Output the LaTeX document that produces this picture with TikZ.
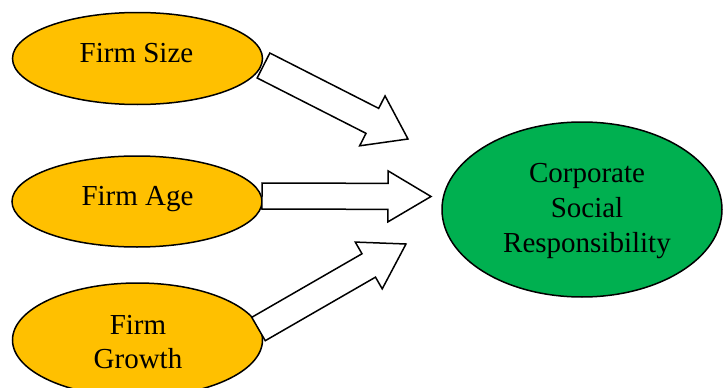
\documentclass[tikz,border=0pt]{standalone}
\usepackage{fontspec}
\setmainfont{Liberation Serif}
\usetikzlibrary{shapes.geometric,calc}
\definecolor{gold}{HTML}{FFC000}
\definecolor{csrgreen}{HTML}{00B050}
\tikzset{
  oval/.style={ellipse, draw=black, line width=1.5pt, inner sep=0pt},
  factor/.style={oval, fill=gold, minimum width=250pt, minimum height=92pt},
  outcome/.style={oval, fill=csrgreen, minimum width=280pt, minimum height=175pt},
  lbl/.style={font=\fontsize{29}{35}\selectfont, inner sep=0pt, align=center, anchor=base},
  arrowbox/.style={draw=black, fill=white, line width=1.5pt, line join=miter}
}
% #1 base, #2 tip, #3 half shaft width, #4 half head width, #5 head length
\newcommand\blockarr[5]{%
  \coordinate (hb) at ($(#2)!#5!(#1)$);
  \draw[arrowbox] ($(#1)!#3!90:(#2)$) -- ($(hb)!#3!90:(#2)$) -- ($(hb)!#4!90:(#2)$)
     -- (#2) -- ($(hb)!#4!-90:(#2)$) -- ($(hb)!#3!-90:(#2)$) -- ($(#1)!#3!-90:(#2)$) -- cycle;
}
\begin{document}
\begin{tikzpicture}[x=1pt,y=-1pt]
\useasboundingbox (0,0) rectangle (724,388);
\clip (0,0) rectangle (724,388);
\node[factor] (size) at (137.5,58.5) {};
\node[factor, minimum height=91pt] (age) at (137,201.5) {};
\node[factor, minimum height=114pt] (growth) at (137.5,340) {};
\node[outcome] (csr) at (582,209.5) {};
\node[lbl] (tsize) at (136.5,63) {Firm Size};
\node[lbl] (tage) at (137.5,205) {Firm Age};
\node[lbl, font=\fontsize{29}{34}\selectfont] (tgrowth) at (138,368) {Firm\\Growth};
\node[lbl] (tcsr) at (587,252) {Corporate\\Social\\Responsibility};
\coordinate (a1s) at (263.5,65.5);
\coordinate (a1t) at (408,139);
\coordinate (a2s) at (262,196);
\coordinate (a2t) at (431,196.5);
\coordinate (a3s) at (258.5,329);
\coordinate (a3t) at (406,244);
\blockarr{a1s}{a1t}{14pt}{28pt}{40pt}
\blockarr{a2s}{a2t}{13pt}{25.5pt}{43pt}
\blockarr{a3s}{a3t}{13.5pt}{27pt}{43pt}
\end{tikzpicture}
\end{document}
